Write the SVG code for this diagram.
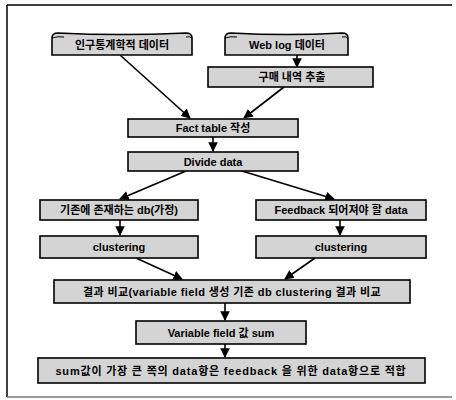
<svg xmlns="http://www.w3.org/2000/svg" width="456" height="400" viewBox="0 0 456 400">
<style>
.box{fill:#d4d4d4;stroke:#000;stroke-width:1.6}
.t{font-family:"Liberation Sans","Noto Sans CJK KR",sans-serif;font-size:11px;font-weight:bold;fill:#000;text-anchor:middle;dominant-baseline:central}
.c{stroke:#000;stroke-width:1.6;fill:none;marker-end:url(#ah)}
</style>
<defs>
<marker id="ah" viewBox="0 0 10 10" refX="9" refY="5" markerWidth="6" markerHeight="6" orient="auto" markerUnits="strokeWidth">
<path d="M0,0 L10,5 L0,10 Z" fill="#000"/>
</marker>
</defs>
<rect width="456" height="400" fill="#fff"/>
<g id="frame" stroke="#000" fill="none">
<line x1="7" y1="5" x2="452" y2="5" stroke-width="1.5"/>
<line x1="7" y1="5" x2="7" y2="397" stroke-width="1.5"/>
<line x1="7" y1="397" x2="452" y2="397" stroke="#777" stroke-width="1.5"/>
</g>
<g id="connectors">
<line class="c" x1="120" y1="55" x2="190" y2="118"/>
<line class="c" x1="297" y1="55" x2="297" y2="67"/>
<line class="c" x1="284" y1="87" x2="244" y2="118"/>
<line class="c" x1="213" y1="137" x2="213" y2="151"/>
<line class="c" x1="186" y1="171" x2="120" y2="199"/>
<line class="c" x1="242" y1="171" x2="334" y2="199"/>
<line class="c" x1="120" y1="220" x2="120" y2="235"/>
<line class="c" x1="340" y1="220" x2="340" y2="235"/>
<line class="c" x1="136" y1="258" x2="182" y2="279"/>
<line class="c" x1="315" y1="258" x2="285" y2="279"/>
<line class="c" x1="225" y1="303" x2="225" y2="320"/>
<line class="c" x1="225" y1="344" x2="225" y2="357"/>
</g>
<g id="n1">
<path class="box" d="M52,38 Q52,33 58,33 Q120,36 186,33 Q192,33 192,38 L192,55 L52,55 Z"/>
<path d="M52,38 Q58,36 64,37 M186,37 Q190,36 192,38" stroke="#000" fill="none" stroke-width="1"/>
<text class="t" x="122" y="45">인구통계학적 데이터</text>
</g>
<g id="n2">
<path class="box" d="M225,38 Q225,33 231,33 Q287,36 342,33 Q348,33 348,38 L348,55 L225,55 Z"/>
<path d="M225,38 Q231,36 237,37 M342,37 Q346,36 348,38" stroke="#000" fill="none" stroke-width="1"/>
<text class="t" x="287" y="45">Web log 데이터</text>
</g>
<g id="n3">
<rect class="box" x="208" y="67" width="165" height="20"/>
<text class="t" x="292" y="77">구매 내역 추출</text>
</g>
<g id="n4">
<rect class="box" x="128" y="119" width="170" height="18"/>
<text class="t" x="213" y="128">Fact table 작성</text>
</g>
<g id="n5">
<rect class="box" x="128" y="152" width="170" height="19"/>
<text class="t" x="213" y="161.5">Divide data</text>
</g>
<g id="n6">
<rect class="box" x="40" y="200" width="158" height="20"/>
<text class="t" x="119" y="210">기존에 존재하는 db(가정)</text>
</g>
<g id="n7">
<rect class="box" x="256" y="200" width="170" height="20"/>
<text class="t" x="341" y="210">Feedback 되어져야 할 data</text>
</g>
<g id="n8">
<rect class="box" x="40" y="236" width="158" height="22"/>
<text class="t" x="119" y="247">clustering</text>
</g>
<g id="n9">
<rect class="box" x="256" y="236" width="170" height="22"/>
<text class="t" x="341" y="247">clustering</text>
</g>
<g id="n10">
<rect class="box" x="54" y="280" width="356" height="23"/>
<text class="t" x="232" y="291.5" letter-spacing="0.4">결과 비교(variable field 생성 기존 db clustering 결과 비교</text>
</g>
<g id="n11">
<rect class="box" x="136" y="321" width="170" height="23"/>
<text class="t" x="221" y="332.5">Variable field 값 sum</text>
</g>
<g id="n12">
<rect class="box" x="38" y="358" width="387" height="25"/>
<text class="t" x="231" y="370.5" letter-spacing="0.8">sum값이 가장 큰 쪽의 data항은 feedback 을 위한 data항으로 적합</text>
</g>
</svg>
